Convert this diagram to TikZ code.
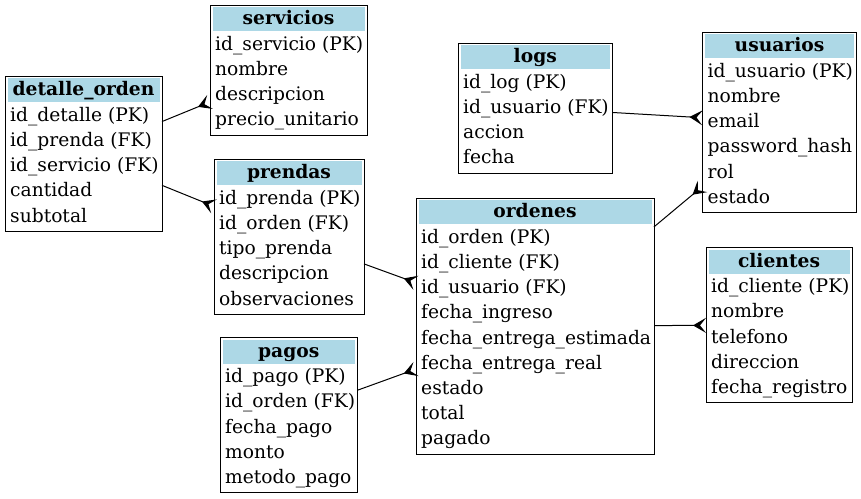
\documentclass[tikz,border=0pt]{standalone}
\usepackage{fontspec}
\setmainfont{DejaVu Serif}
\usetikzlibrary{arrows.meta}
\definecolor{hdrblue}{HTML}{ADD8E6}
\tikzset{
  tblbox/.style={draw=black, line width=1pt, inner sep=0pt, outer sep=0pt, fill=white},
  rowtxt/.style={inner sep=0pt, anchor=base west, font=\fontsize{18.67}{22}\selectfont},
  hdrtxt/.style={inner sep=0pt, anchor=base, font=\fontsize{18.67}{22}\selectfont\bfseries},
  rel/.style={draw=black, line width=1pt, -{Stealth[reversed,length=13pt,width=15pt,inset=6pt]}},
}
\newcommand\ertab[7]{%
  \node[tblbox, minimum width=#4, minimum height={(#5+1)*25.2+4}, anchor=north west] (#1) at (#2,#3) {};
  \fill[hdrblue] (#2+2.5,#3+2) rectangle (#2+#4-2.5,#3+26);
  \node[hdrtxt] (#1-h) at (#2+#4/2,#3+19.5) {#6};
  \foreach \r [count=\k] in {#7} \node[rowtxt] (#1-\k) at (#2+5,#3+20+25.2*\k) {\r};
}
\begin{document}
\begin{tikzpicture}[x=1pt,y=-1pt]
\useasboundingbox (0,0) rectangle (861,498);
\ertab{servicios}{210}{5}{157}{4}{servicios}{id\_servicio (PK),nombre,descripcion,precio\_unitario}
\ertab{detalle}{5}{76}{157}{5}{detalle\_orden}{id\_detalle (PK),id\_prenda (FK),id\_servicio (FK),cantidad,subtotal}
\ertab{logs}{458}{43}{154.5}{4}{logs}{id\_log (PK),id\_usuario (FK),accion,fecha}
\ertab{usuarios}{702.5}{32}{154}{6}{usuarios}{id\_usuario (PK),nombre,email,password\_hash,rol,estado}
\ertab{prendas}{214}{159}{150}{5}{prendas}{id\_prenda (PK),id\_orden (FK),tipo\_prenda,descripcion,observaciones}
\ertab{ordenes}{416}{198}{238}{9}{ordenes}{id\_orden (PK),id\_cliente (FK),id\_usuario (FK),fecha\_ingreso,fecha\_entrega\_estimada,fecha\_entrega\_real,estado,total,pagado}
\ertab{clientes}{706}{247.5}{146}{5}{clientes}{id\_cliente (PK),nombre,telefono,direccion,fecha\_registro}
\ertab{pagos}{220}{337.5}{137.5}{5}{pagos}{id\_pago (PK),id\_orden (FK),fecha\_pago,monto,metodo\_pago}
\draw[rel] (detalle) -- (servicios);
\draw[rel] (detalle) -- (prendas);
\draw[rel] (prendas) -- (ordenes);
\draw[rel] (pagos) -- (ordenes);
\draw[rel] (logs) -- (usuarios);
\draw[rel] (ordenes) -- (usuarios);
\draw[rel] (ordenes) -- (clientes);
\end{tikzpicture}
\end{document}
